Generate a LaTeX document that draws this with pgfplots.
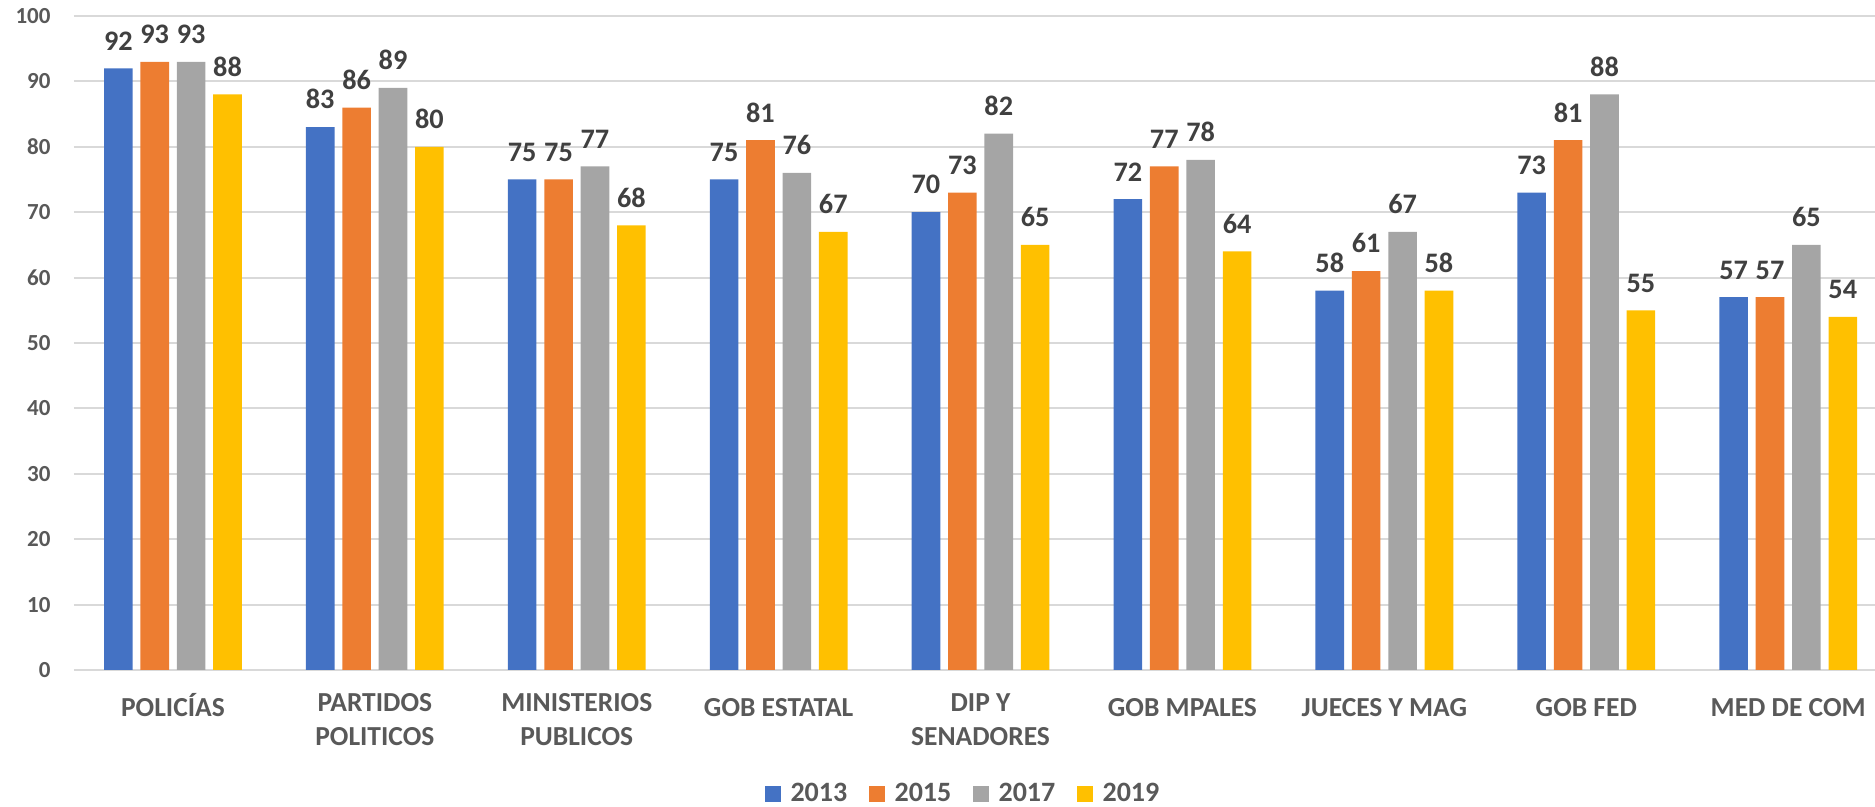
\documentclass[border=0pt]{standalone}
\usepackage{pgfplots}
\pgfplotsset{compat=1.18}
\usepackage{fontspec}
\setmainfont{Carlito}

\definecolor{c13}{HTML}{4472C4}
\definecolor{c15}{HTML}{ED7D31}
\definecolor{c17}{HTML}{A5A5A5}
\definecolor{c19}{HTML}{FFC000}
\definecolor{txt}{HTML}{595959}
\definecolor{lab}{HTML}{404040}
\definecolor{gridc}{HTML}{D9D9D9}

\begin{document}
\begin{tikzpicture}
\begin{axis}[
    scale only axis,
    width=720.4pt, height=261.6pt,
    xmin=-0.49, xmax=8.43,
    ymin=0, ymax=100,
    ytick={0,10,...,100},
    xtick={0,...,8},
    xticklabels={POLICÍAS, {PARTIDOS\\POLITICOS}, {MINISTERIOS\\PUBLICOS}, GOB ESTATAL,
        {DIP Y\\SENADORES}, GOB MPALES, JUECES Y MAG, GOB FED, MED DE COM},
    xticklabel style={align=center, anchor=north, inner sep=0pt, yshift=-9.1pt,
        font=\fontsize{11}{13.6}\selectfont\bfseries, text=txt,
        execute at begin node=\vphantom{Í}},
    yticklabel style={anchor=east, inner sep=0pt, xshift=-9.2pt,
        font=\fontsize{9.2}{10}\selectfont\bfseries, text=txt},
    /pgf/number format/assume math mode=true,
    major tick length=0pt,
    axis line style={draw=none},
    ymajorgrids,
    grid style={draw=gridc, line width=0.8pt},
    ybar, bar width=11.44pt,
    clip=false,
    nodes near coords,
    nodes near coords style={font=\fontsize{11.3}{12}\selectfont\bfseries, text=lab,
        anchor=south, inner sep=0pt, yshift=7pt},
    legend columns=4,
    legend style={at={(0.494,0)}, anchor=center, yshift=-49.6pt, draw=none,
        font=\fontsize{11.2}{12}\selectfont\bfseries, text=txt,
        nodes={inner sep=1.2pt},
        /tikz/every odd column/.append style={column sep=2.6pt},
        /tikz/every even column/.append style={column sep=7.5pt}},
    legend image code/.code={\fill[#1] (0pt,-3.2pt) rectangle (6.4pt,3.2pt);},
]
\addplot[fill=c13, draw=none, bar shift=-21.84pt] coordinates
    {(0,92) (1,83) (2,75) (3,75) (4,70) (5,72) (6,58) (7,73) (8,57)};
\addplot[fill=c15, draw=none, bar shift=-7.28pt] coordinates
    {(0,93) (1,86) (2,75) (3,81) (4,73) (5,77) (6,61) (7,81) (8,57)};
\addplot[fill=c17, draw=none, bar shift=7.28pt] coordinates
    {(0,93) (1,89) (2,77) (3,76) (4,82) (5,78) (6,67) (7,88) (8,65)};
\addplot[fill=c19, draw=none, bar shift=21.84pt] coordinates
    {(0,88) (1,80) (2,68) (3,67) (4,65) (5,64) (6,58) (7,55) (8,54)};
\legend{2013, 2015, 2017, 2019}
\end{axis}
\pgfresetboundingbox
\path ([xshift=-29.6pt, yshift=-54.8pt]current axis.south west)
    rectangle ([yshift=6.4pt]current axis.north east);
\end{tikzpicture}
\end{document}
